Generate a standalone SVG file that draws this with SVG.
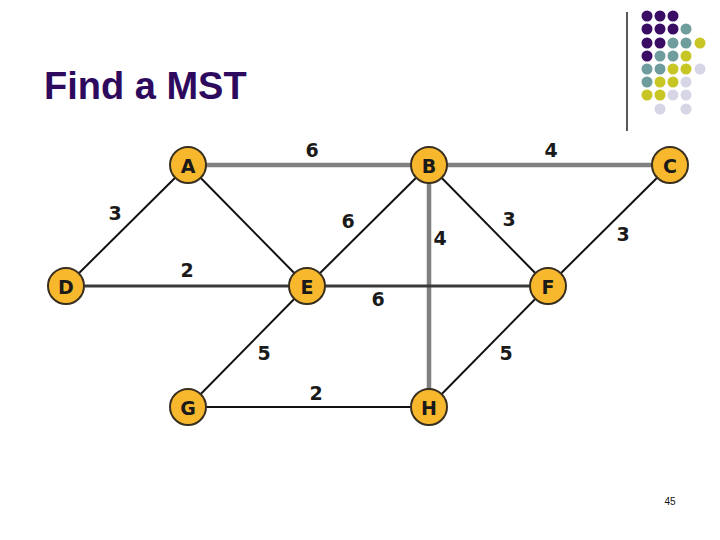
<svg xmlns="http://www.w3.org/2000/svg" width="720" height="540" viewBox="0 0 720 540">
<style>
.node circle{fill:#f8b82e;stroke:#3a3020;stroke-width:2}
.node text{font-family:"DejaVu Sans",sans-serif;font-weight:bold;font-size:19px;fill:#1a1a1a;text-anchor:middle;dominant-baseline:central}
.wt{font-family:"DejaVu Sans",sans-serif;font-weight:bold;font-size:19px;fill:#1a1a1a;text-anchor:middle;dominant-baseline:central}
.g{stroke:#808080;stroke-width:4.5}
.d{stroke:#3a3a3a;stroke-width:3}
.k{stroke:#111;stroke-width:2}
.pu{fill:#3b0c63}.te{fill:#6f9c9c}.ye{fill:#c7c624}.la{fill:#d6d6e6}
</style>
<rect width="720" height="540" fill="#fff"/>
<text x="44" y="99" font-family="Liberation Sans, Arial, sans-serif" font-weight="bold" font-size="38" fill="#2e0a5e">Find a MST</text>
<line x1="627" y1="12" x2="627" y2="131" stroke="#222" stroke-width="1.5"/>
<g id="dots">
<circle class="pu" cx="647" cy="16" r="5.5"/><circle class="pu" cx="660" cy="16" r="5.5"/><circle class="pu" cx="673" cy="16" r="5.5"/>
<circle class="pu" cx="647" cy="29" r="5.5"/><circle class="pu" cx="660" cy="29" r="5.5"/><circle class="pu" cx="673" cy="29" r="5.5"/><circle class="te" cx="686" cy="29" r="5.5"/>
<circle class="pu" cx="647" cy="43" r="5.5"/><circle class="pu" cx="660" cy="43" r="5.5"/><circle class="te" cx="673" cy="43" r="5.5"/><circle class="te" cx="686" cy="43" r="5.5"/><circle class="ye" cx="700" cy="43" r="5.5"/>
<circle class="pu" cx="647" cy="56" r="5.5"/><circle class="te" cx="660" cy="56" r="5.5"/><circle class="te" cx="673" cy="56" r="5.5"/><circle class="ye" cx="686" cy="56" r="5.5"/>
<circle class="te" cx="647" cy="69" r="5.5"/><circle class="te" cx="660" cy="69" r="5.5"/><circle class="ye" cx="673" cy="69" r="5.5"/><circle class="ye" cx="686" cy="69" r="5.5"/><circle class="la" cx="700" cy="69" r="5.5"/>
<circle class="te" cx="647" cy="82" r="5.5"/><circle class="ye" cx="660" cy="82" r="5.5"/><circle class="ye" cx="673" cy="82" r="5.5"/><circle class="la" cx="686" cy="82" r="5.5"/>
<circle class="ye" cx="647" cy="95" r="5.5"/><circle class="ye" cx="660" cy="95" r="5.5"/><circle class="la" cx="673" cy="95" r="5.5"/><circle class="la" cx="686" cy="95" r="5.5"/>
<circle class="la" cx="660" cy="109" r="5.5"/><circle class="la" cx="686" cy="109" r="5.5"/>
</g>
<g id="connectors">
<line class="g" x1="188" y1="165" x2="429" y2="165"/>
<line class="g" x1="429" y1="165" x2="670" y2="165"/>
<line class="g" x1="429" y1="165" x2="429" y2="407"/>
<line class="d" x1="66" y1="286" x2="307" y2="286"/>
<line class="d" x1="307" y1="286" x2="548" y2="286"/>
<line class="k" x1="188" y1="165" x2="66" y2="286"/>
<line class="k" x1="188" y1="165" x2="307" y2="286"/>
<line class="k" x1="429" y1="165" x2="307" y2="286"/>
<line class="k" x1="429" y1="165" x2="548" y2="286"/>
<line class="k" x1="670" y1="165" x2="548" y2="286"/>
<line class="k" x1="307" y1="286" x2="188" y2="407"/>
<line class="k" x1="548" y1="286" x2="429" y2="407"/>
<line class="k" x1="188" y1="407" x2="429" y2="407"/>
</g>
<g id="weights">
<text class="wt" x="312" y="150">6</text>
<text class="wt" x="551" y="150">4</text>
<text class="wt" x="115" y="213">3</text>
<text class="wt" x="348" y="221">6</text>
<text class="wt" x="440" y="238">4</text>
<text class="wt" x="509" y="219">3</text>
<text class="wt" x="623" y="234">3</text>
<text class="wt" x="187" y="270">2</text>
<text class="wt" x="378" y="299">6</text>
<text class="wt" x="264" y="353">5</text>
<text class="wt" x="506" y="353">5</text>
<text class="wt" x="316" y="393">2</text>
</g>
<g id="A" class="node"><circle cx="188" cy="165" r="18"/><text x="188" y="166">A</text></g>
<g id="B" class="node"><circle cx="429" cy="165" r="18"/><text x="429" y="166">B</text></g>
<g id="C" class="node"><circle cx="670" cy="165" r="18"/><text x="670" y="166">C</text></g>
<g id="D" class="node"><circle cx="66" cy="286" r="18"/><text x="66" y="287">D</text></g>
<g id="E" class="node"><circle cx="307" cy="286" r="18"/><text x="307" y="287">E</text></g>
<g id="F" class="node"><circle cx="548" cy="286" r="18"/><text x="548" y="287">F</text></g>
<g id="G" class="node"><circle cx="188" cy="407" r="18"/><text x="188" y="408">G</text></g>
<g id="H" class="node"><circle cx="429" cy="407" r="18"/><text x="429" y="408">H</text></g>
<text x="670" y="505" font-family="Liberation Sans, Arial, sans-serif" font-size="10" fill="#111" text-anchor="middle">45</text>
</svg>
